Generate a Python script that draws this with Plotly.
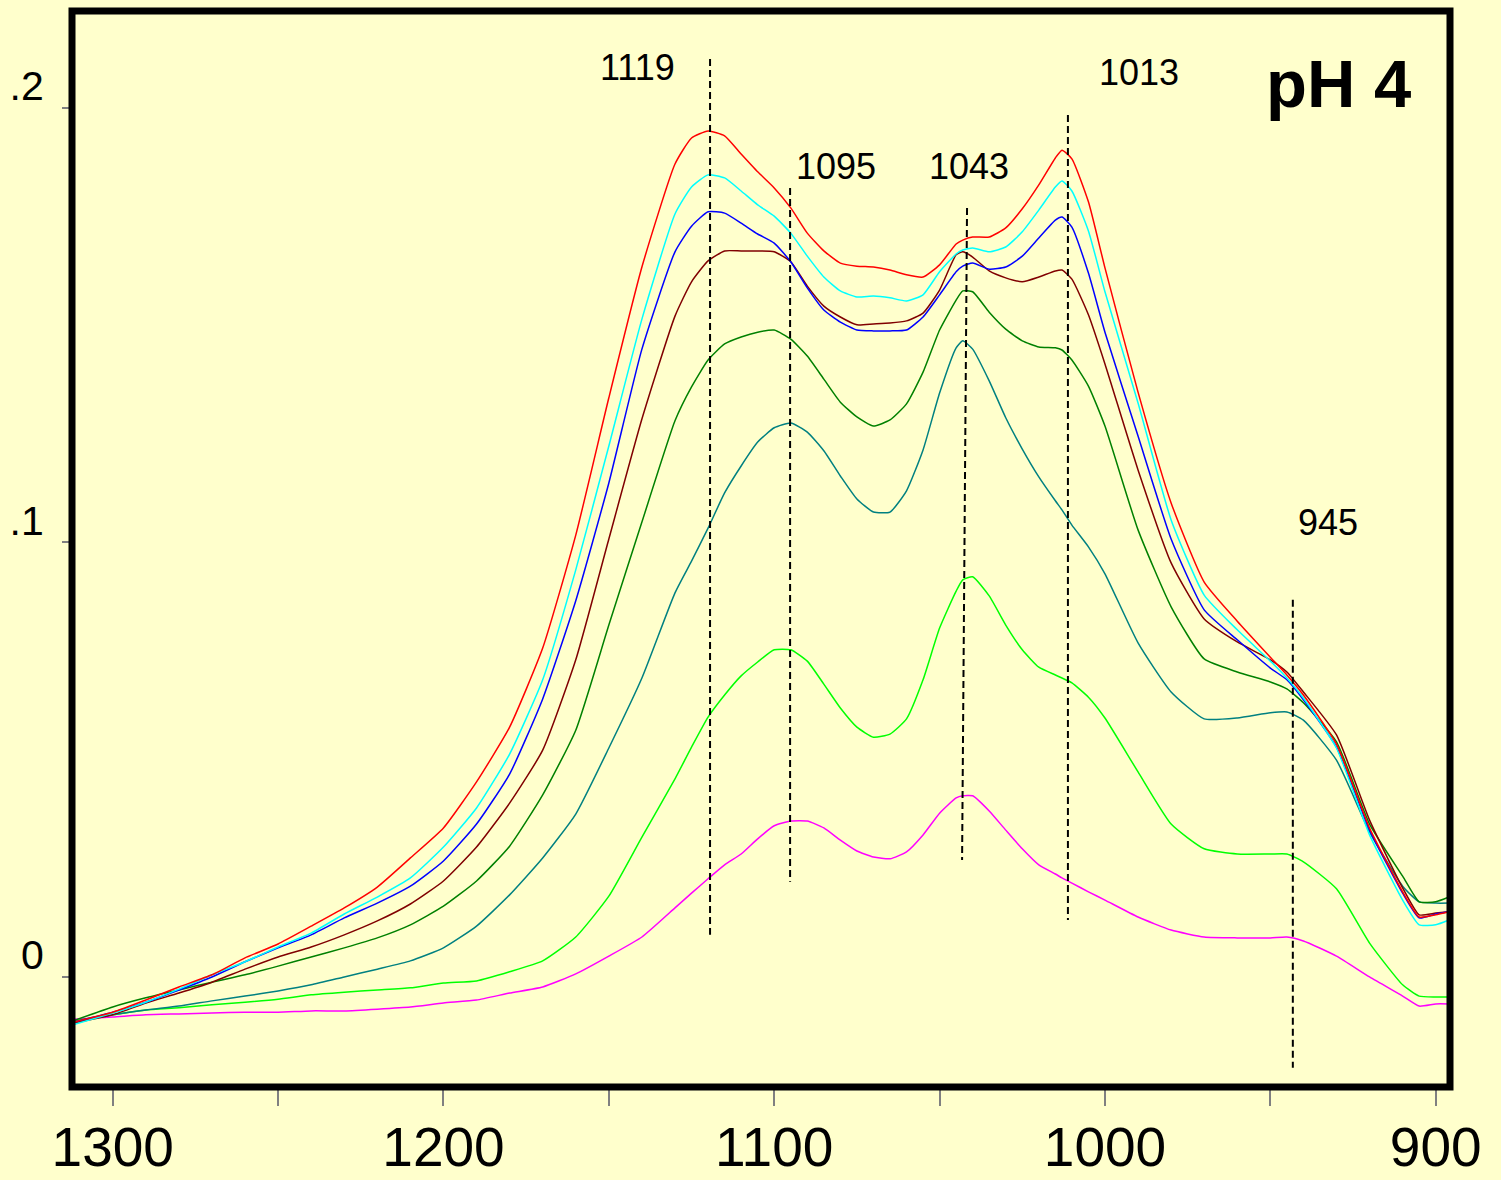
import plotly.graph_objects as go

# Wavenumber grid (cm-1)
wavenumber = [1312, 1300, 1290, 1280, 1270, 1260, 1250, 1240, 1230, 1220,
              1210, 1200, 1190, 1180, 1170, 1160, 1150, 1140, 1130, 1125,
              1120, 1115, 1110, 1105, 1100, 1095, 1090, 1085, 1080, 1075,
              1070, 1065, 1060, 1055, 1050, 1045, 1043, 1040, 1035, 1030,
              1025, 1020, 1015, 1013, 1010, 1005, 1000, 990, 980, 970,
              960, 950, 945, 940, 930, 920, 910, 905, 900, 896]

red = [-0.0104, -0.0081, -0.0053, -0.0023, 0.0005, 0.0044, 0.0076, 0.0117, 0.0159, 0.0207,
       0.0274, 0.0343, 0.0449, 0.0575, 0.0757, 0.1017, 0.1333, 0.1634, 0.1871, 0.1931,
       0.1947, 0.1936, 0.1894, 0.1853, 0.1816, 0.1770, 0.1712, 0.1671, 0.1643, 0.1636,
       0.1634, 0.1627, 0.1616, 0.1611, 0.1639, 0.1687, 0.1696, 0.1703, 0.1703, 0.1724,
       0.1768, 0.1823, 0.1885, 0.1903, 0.1883, 0.1784, 0.1632, 0.1346, 0.1091, 0.0909,
       0.0819, 0.0736, 0.0695, 0.0649, 0.0536, 0.0343, 0.0196, 0.0138, 0.0143, 0.0150]

cyan = [-0.0110, -0.0083, -0.0058, -0.0028, 0.0005, 0.0035, 0.0069, 0.0101, 0.0145, 0.0184,
        0.0228, 0.0299, 0.0389, 0.0513, 0.0684, 0.0937, 0.1222, 0.1514, 0.1756, 0.1818,
        0.1846, 0.1839, 0.1809, 0.1777, 0.1751, 0.1712, 0.1659, 0.1611, 0.1579, 0.1565,
        0.1567, 0.1563, 0.1556, 0.1570, 0.1623, 0.1664, 0.1673, 0.1678, 0.1669, 0.1680,
        0.1715, 0.1765, 0.1818, 0.1832, 0.1809, 0.1717, 0.1577, 0.1321, 0.1052, 0.0879,
        0.0799, 0.0727, 0.0688, 0.0642, 0.0527, 0.0327, 0.0177, 0.0120, 0.0120, 0.0131]

blue = [-0.0104, -0.0081, -0.0058, -0.0030, 0.0000, 0.0035, 0.0067, 0.0097, 0.0136, 0.0170,
        0.0209, 0.0267, 0.0352, 0.0467, 0.0640, 0.0866, 0.1137, 0.1445, 0.1669, 0.1728,
        0.1761, 0.1758, 0.1735, 0.1710, 0.1689, 0.1646, 0.1586, 0.1535, 0.1507, 0.1489,
        0.1487, 0.1487, 0.1489, 0.1519, 0.1570, 0.1623, 0.1636, 0.1643, 0.1629, 0.1634,
        0.1659, 0.1701, 0.1742, 0.1749, 0.1726, 0.1620, 0.1484, 0.1245, 0.1008, 0.0845,
        0.0776, 0.0711, 0.0684, 0.0638, 0.0529, 0.0338, 0.0193, 0.0136, 0.0145, 0.0150]

brown = [-0.0106, -0.0087, -0.0060, -0.0037, -0.0012, 0.0018, 0.0046, 0.0069, 0.0097, 0.0129,
         0.0168, 0.0221, 0.0299, 0.0400, 0.0522, 0.0730, 0.1008, 0.1284, 0.1521, 0.1600,
         0.1648, 0.1671, 0.1671, 0.1671, 0.1669, 0.1646, 0.1590, 0.1544, 0.1519, 0.1501,
         0.1503, 0.1505, 0.1510, 0.1528, 0.1581, 0.1662, 0.1669, 0.1657, 0.1625, 0.1609,
         0.1600, 0.1611, 0.1625, 0.1627, 0.1606, 0.1524, 0.1411, 0.1167, 0.0953, 0.0824,
         0.0771, 0.0730, 0.0702, 0.0656, 0.0557, 0.0361, 0.0205, 0.0143, 0.0147, 0.0150]

dark_green = [-0.0101, -0.0069, -0.0048, -0.0030, -0.0012, 0.0005, 0.0025, 0.0046, 0.0067, 0.0090,
              0.0120, 0.0163, 0.0221, 0.0301, 0.0419, 0.0568, 0.0810, 0.1047, 0.1280, 0.1358,
              0.1420, 0.1457, 0.1473, 0.1484, 0.1489, 0.1468, 0.1429, 0.1376, 0.1323, 0.1289,
              0.1268, 0.1282, 0.1319, 0.1392, 0.1489, 0.1558, 0.1579, 0.1577, 0.1530, 0.1491,
              0.1464, 0.1450, 0.1448, 0.1443, 0.1420, 0.1360, 0.1268, 0.1029, 0.0852, 0.0732,
              0.0702, 0.0679, 0.0663, 0.0631, 0.0541, 0.0352, 0.0232, 0.0173, 0.0173, 0.0184]

teal = [-0.0104, -0.0087, -0.0076, -0.0067, -0.0055, -0.0044, -0.0032, -0.0018, 0.0000, 0.0018,
        0.0037, 0.0067, 0.0117, 0.0189, 0.0274, 0.0375, 0.0527, 0.0688, 0.0884, 0.0957,
        0.1033, 0.1114, 0.1176, 0.1231, 0.1264, 0.1275, 0.1254, 0.1211, 0.1153, 0.1100,
        0.1070, 0.1070, 0.1119, 0.1213, 0.1344, 0.1448, 0.1464, 0.1445, 0.1372, 0.1287,
        0.1215, 0.1151, 0.1096, 0.1075, 0.1040, 0.0990, 0.0928, 0.0769, 0.0656, 0.0594,
        0.0596, 0.0608, 0.0610, 0.0591, 0.0499, 0.0334, 0.0209, 0.0173, 0.0170, 0.0170]

green = [-0.0101, -0.0087, -0.0076, -0.0071, -0.0064, -0.0058, -0.0051, -0.0041, -0.0035, -0.0030,
         -0.0025, -0.0014, -0.0009, 0.0012, 0.0037, 0.0092, 0.0186, 0.0322, 0.0456, 0.0529,
         0.0598, 0.0649, 0.0693, 0.0725, 0.0753, 0.0753, 0.0727, 0.0674, 0.0619, 0.0575,
         0.0552, 0.0559, 0.0594, 0.0684, 0.0803, 0.0888, 0.0914, 0.0921, 0.0877, 0.0810,
         0.0753, 0.0713, 0.0695, 0.0688, 0.0677, 0.0644, 0.0596, 0.0472, 0.0352, 0.0295,
         0.0283, 0.0283, 0.0283, 0.0265, 0.0203, 0.0078, -0.0018, -0.0044, -0.0046, -0.0046]

magenta = [-0.0097, -0.0092, -0.0087, -0.0085, -0.0083, -0.0081, -0.0081, -0.0078, -0.0078, -0.0074,
           -0.0069, -0.0060, -0.0053, -0.0037, -0.0023, 0.0007, 0.0048, 0.0092, 0.0159, 0.0193,
           0.0226, 0.0258, 0.0283, 0.0318, 0.0348, 0.0359, 0.0359, 0.0343, 0.0315, 0.0290,
           0.0276, 0.0272, 0.0288, 0.0327, 0.0377, 0.0412, 0.0417, 0.0417, 0.0382, 0.0338,
           0.0295, 0.0258, 0.0237, 0.0228, 0.0216, 0.0196, 0.0177, 0.0138, 0.0108, 0.0092,
           0.0090, 0.0090, 0.0092, 0.0083, 0.0048, 0.0000, -0.0044, -0.0067, -0.0062, -0.0062]

series = [
    ("magenta", magenta, "#FF00FF"),
    ("green", green, "#00FF00"),
    ("teal", teal, "#008080"),
    ("dark green", dark_green, "#008000"),
    ("brown", brown, "#800000"),
    ("blue", blue, "#0000FF"),
    ("cyan", cyan, "#00FFFF"),
    ("red", red, "#FF0000"),
]

# Peak marker lines: label, label position, line top / bottom
peak_labels = ["1119", "1095", "1043", "1013", "945"]
label_x = [1141.3, 1081.3, 1041.1, 989.6, 932.6]
label_y = [0.2093, 0.1866, 0.1866, 0.2081, 0.1047]
line_x_top = [1119.4, 1095.2, 1041.7, 1011.2, 943.2]
line_x_bottom = [1119.4, 1095.2, 1043.2, 1011.2, 943.2]
line_y_top = [0.2113, 0.1816, 0.1770, 0.1984, 0.0868]
line_y_bottom = [0.0097, 0.0219, 0.0269, 0.0131, -0.0209]

x_tick_vals = [1300, 1250, 1200, 1150, 1100, 1050, 1000, 950, 900]
x_tick_text = ["1300", "", "1200", "", "1100", "", "1000", "", "900"]
y_tick_vals = [0, 0.1, 0.2]
y_tick_text = ["0", ".1", ".2"]

FONT = "Liberation Sans, Arial, sans-serif"
BG = "#FFFFCC"

fig = go.Figure()
for name, vals, col in series:
    fig.add_trace(go.Scatter(x=wavenumber, y=vals, mode="lines", name=name,
                             line=dict(color=col, width=1.5, shape="spline", smoothing=0.5),
                             hoverinfo="skip"))

for i in range(len(peak_labels)):
    fig.add_shape(type="line", xref="x", yref="y",
                  x0=line_x_top[i], y0=line_y_top[i], x1=line_x_bottom[i], y1=line_y_bottom[i],
                  line=dict(color="black", width=2, dash="7px,4px"))
    fig.add_annotation(x=label_x[i], y=label_y[i], xref="x", yref="y", text=peak_labels[i],
                       showarrow=False, xanchor="center", yanchor="middle",
                       font=dict(family=FONT, size=36, color="black"))

fig.add_annotation(x=(1338 - 72) / 1378, y=(1180 - 93 - 84) / 1076, xref="paper", yref="paper",
                   text="<b>pH 4</b>", showarrow=False, xanchor="center", yanchor="middle",
                   font=dict(family=FONT, size=67, color="black"))

# frame
fig.add_shape(type="rect", xref="paper", yref="paper", x0=0, y0=0, x1=1, y1=1,
              line=dict(color="black", width=7), layer="above")

fig.update_layout(
    width=1501, height=1180,
    margin=dict(l=72, r=51, t=11, b=93, pad=0, autoexpand=False),
    paper_bgcolor=BG, plot_bgcolor=BG,
    showlegend=False,
    xaxis=dict(range=[1312.31, 895.68], tickvals=x_tick_vals, ticktext=x_tick_text,
               ticks="outside", ticklen=18, tickcolor="#808080", tickwidth=1.5,
               showgrid=False, zeroline=False, showline=False, automargin=False,
               tickfont=dict(family=FONT, size=55, color="black"),
               ticklabelstandoff=-6),
    yaxis=dict(range=[-0.02532, 0.22232], tickvals=y_tick_vals, ticktext=y_tick_text,
               ticks="outside", ticklen=9, tickcolor="#808080", tickwidth=1.5,
               showgrid=False, zeroline=False, showline=False, automargin=False,
               tickfont=dict(family=FONT, size=41, color="black"),
               ticklabelstandoff=10, ticklabelshift=-22),
)

fig.write_html("out.html")
